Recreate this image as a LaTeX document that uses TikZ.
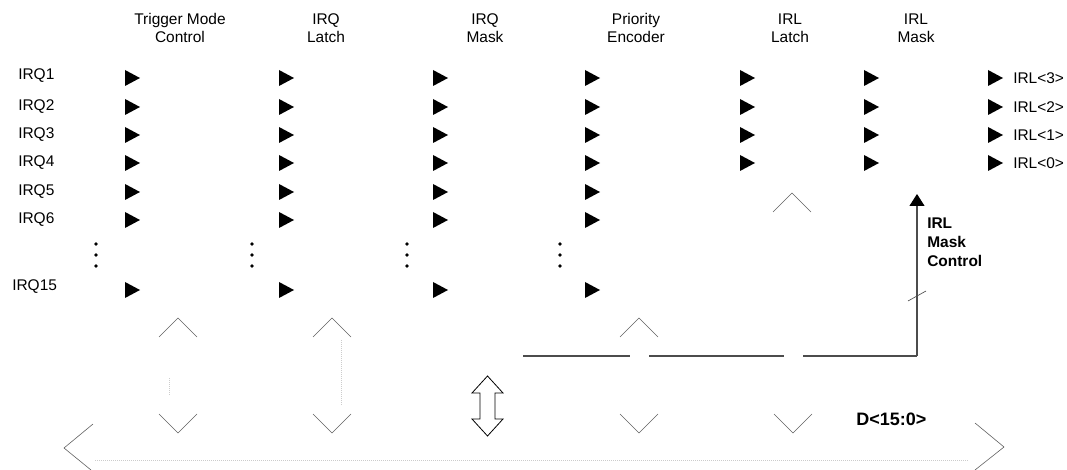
\documentclass[tikz,border=0pt]{standalone}
\usepackage{fontspec}
\setmainfont{Liberation Sans}
\usetikzlibrary{arrows.meta, positioning}

\begin{document}
\begin{tikzpicture}[
  x=0.75pt, y=-0.75pt,
  lbl/.style={font=\fontsize{11.6}{13.5}\selectfont, inner sep=0pt},
  head/.style={lbl, align=center},
  blbl/.style={lbl, font=\fontsize{11.6}{14.25}\selectfont\bfseries, align=left},
  chev/.style={gray!75!black, line width=0.45pt},
  faint/.style={gray!40, densely dotted, line width=0.5pt},
  bus/.style={gray!60!black, line width=0.8pt},
  arr/.style={bus, -{Triangle[length=9pt, width=11.25pt, fill=black, color=black]}},
]
\useasboundingbox (0,0) rectangle (1067,470);

%% ---- column headers ----
\node[head] (trig) at (180,28) {Trigger Mode\\Control};
\node[head] (qlat) at (326,28) {IRQ\\Latch};
\node[head] (qmsk) at (485,28) {IRQ\\Mask};
\node[head] (prio) at (636,28) {Priority\\Encoder};
\node[head] (llat) at (790,28) {IRL\\Latch};
\node[head] (lmsk) at (916,28) {IRL\\Mask};

%% ---- inputs IRQ1..IRQ6, IRQ15 ----
\foreach \n/\y in {1/76, 2/107, 3/135, 4/163, 5/192, 6/220}
  \node[lbl, anchor=west] (irq\n) at (18,\y) {IRQ\n};
\node[lbl, anchor=west] (irq15) at (12,287) {IRQ15};

%% arrowheads through the IRQ stages
\foreach \x in {125, 279, 433, 585}
  \foreach \y in {78, 107, 135, 163, 192, 220, 290}
    \fill (\x,\y-8) -- (\x+15,\y) -- (\x,\y+8) -- cycle;

%% arrowheads through the IRL stages
\foreach \x in {740, 864, 988}
  \foreach \y in {78, 107, 135, 163}
    \fill (\x,\y-8) -- (\x+15,\y) -- (\x,\y+8) -- cycle;

%% ---- outputs ----
\foreach \n/\y in {3/78, 2/107, 1/135, 0/163}
  \node[lbl, anchor=west] (irl\n) at (1013,\y) {IRL<\n>};

%% vertical ellipsis
\foreach \x in {96, 252, 407, 560}
  \foreach \y in {244, 255, 266}
    \fill (\x,\y) circle (1.9);

%% ---- carets to/from the data bus ----
\foreach \x in {178, 332, 639}
  \draw[chev] (\x-19,337) -- (\x,318) -- (\x+19,337);
\draw[chev] (773,212) -- (792,193) -- (811,212);
\foreach \x in {178, 332, 639, 793}
  \draw[chev] (\x-19,414) -- (\x,433) -- (\x+19,414);
\draw[faint] (169,378) -- (169,396);
\draw[faint] (341,340) -- (341,405);

%% ---- data bus D<15:0> ----
\coordinate (busL) at (64,448);
\coordinate (busR) at (1004,447);
\draw[chev] (93,424) -- (busL) -- (91,470);
\draw[chev] (975,423) -- (busR) -- (975,470);
\draw[faint] (95,460) -- (968,460);
\node[blbl, font=\fontsize{13.5}{15}\selectfont\bfseries, anchor=west] (dbus) at (856,419) {D<15:0>};

%% bidirectional link
\draw[line width=0.6pt, fill=white] (487.5,376) -- (503,393) -- (495,393) -- (495,419)
  -- (503,419) -- (487.5,436) -- (472,419) -- (480,419) -- (480,393) -- (472,393) -- cycle;

%% ---- IRL mask control ----
\coordinate (ctlS) at (523,356);
\coordinate (ctl) at (917,356);
\coordinate (mskin) at (917,194);
\draw[bus] (ctlS) -- (630,356) (649,356) -- (784,356) (803,356) -- (ctl);
\draw[arr] (ctl) -- (mskin);
\draw[bus, line width=0.5pt] (908,301) -- (926,291);
\node[blbl, anchor=west] (mctl) at (927,242) {IRL\\Mask\\Control};

\end{tikzpicture}
\end{document}
